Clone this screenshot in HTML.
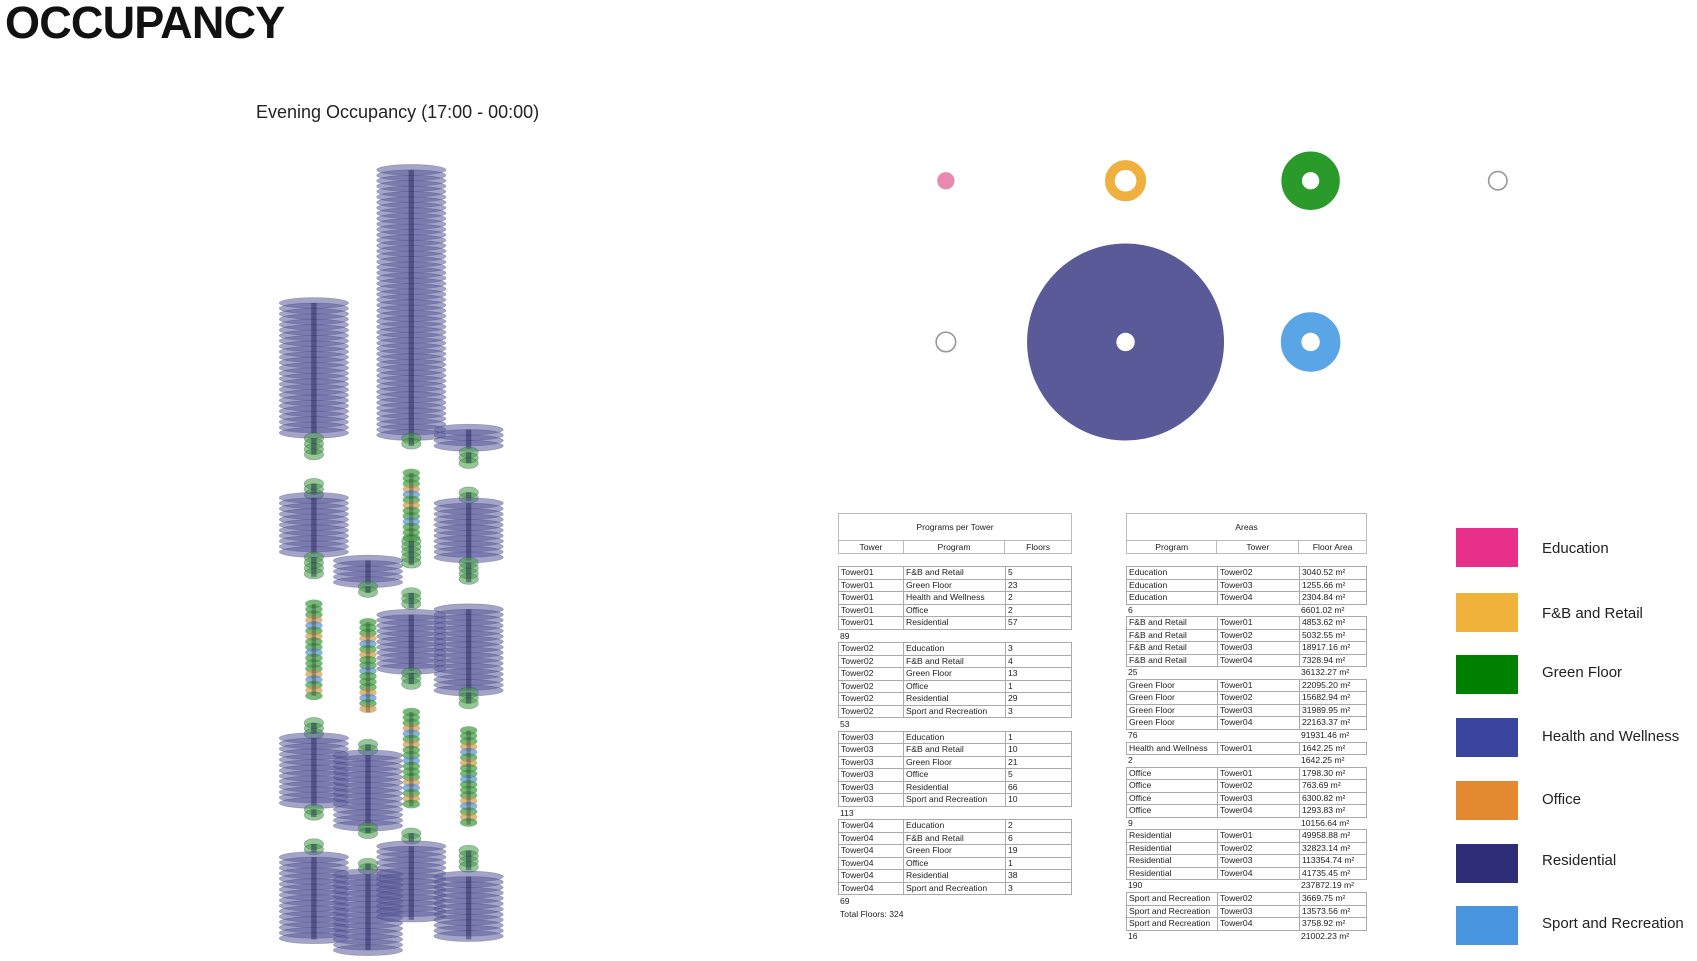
<!DOCTYPE html>
<html><head><meta charset="utf-8">
<style>
body{margin:0;width:1697px;height:961px;background:#fff;position:relative;overflow:hidden;font-family:"Liberation Sans",sans-serif;}
.abs{position:absolute}
h1{position:absolute;left:5px;top:-3px;margin:0;font-size:45px;font-weight:bold;letter-spacing:-0.8px;color:#111}
.sub{left:256px;top:102px;font-size:18px;color:#222}
.tbl{position:absolute;font-size:8.6px;color:#222}
.hdr{border:1px solid #bbb;height:28px;box-sizing:border-box;text-align:center;line-height:26px}
.ch{display:flex;border:1px solid #bbb;border-top:none;height:13px;box-sizing:border-box;line-height:12px}
.ch div{text-align:center;border-right:1px solid #bbb}
.ch div:last-child{border-right:none}
.g{border:1px solid #aaa;border-bottom:none}
.r{display:flex;height:12.5px;border-bottom:1px solid #aaa;box-sizing:border-box;line-height:11px}
.r div{padding-left:2px;border-right:1px solid #aaa;box-sizing:border-box;white-space:nowrap;overflow:hidden}
.r div:last-child{border-right:none}
.s{height:12.5px;line-height:12px;display:flex}
.a .s{height:11.7px;line-height:11px}
.s div{padding-left:2px;box-sizing:border-box}
.leg{position:absolute;left:1456px;width:62px;height:39px}
.lt{position:absolute;left:1542px;font-size:15px;color:#222}
</style></head><body>
<h1>OCCUPANCY</h1>
<div class="abs sub">Evening Occupancy (17:00 - 00:00)</div>

<svg class="abs" style="left:0;top:0" width="1697" height="961" viewBox="0 0 1568 888">
<circle cx="874" cy="167" r="8" fill="#e889b0"/>
<circle cx="1040" cy="167" r="14.5" fill="none" stroke="#f0b040" stroke-width="9"/>
<circle cx="1211" cy="167" r="17.5" fill="none" stroke="#2a9a2a" stroke-width="19"/>
<circle cx="1384" cy="167" r="8.5" fill="none" stroke="#999" stroke-width="1.5"/>
<circle cx="874" cy="316" r="9" fill="none" stroke="#999" stroke-width="1.5"/>
<circle cx="1040" cy="316" r="91" fill="#5a5a98"/>
<circle cx="1040" cy="316" r="8.5" fill="#fff"/>
<circle cx="1211" cy="316" r="18" fill="none" stroke="#5aa5e5" stroke-width="19"/>
<g id="towers"></g>
</svg>

<div class="tbl" style="left:838px;top:513px;width:234px">
<div class="hdr">Programs per Tower</div>
<div class="ch"><div style="width:65px">Tower</div><div style="width:102px">Program</div><div style="width:67px">Floors</div></div>
<div style="height:12px"></div>
<div class="g">
<div class="r"><div style="width:65px">Tower01</div><div style="width:102px">F&amp;B and Retail</div><div>5</div></div>
<div class="r"><div style="width:65px">Tower01</div><div style="width:102px">Green Floor</div><div>23</div></div>
<div class="r"><div style="width:65px">Tower01</div><div style="width:102px">Health and Wellness</div><div>2</div></div>
<div class="r"><div style="width:65px">Tower01</div><div style="width:102px">Office</div><div>2</div></div>
<div class="r"><div style="width:65px">Tower01</div><div style="width:102px">Residential</div><div>57</div></div>
</div><div class="s"><div>89</div></div>
<div class="g">
<div class="r"><div style="width:65px">Tower02</div><div style="width:102px">Education</div><div>3</div></div>
<div class="r"><div style="width:65px">Tower02</div><div style="width:102px">F&amp;B and Retail</div><div>4</div></div>
<div class="r"><div style="width:65px">Tower02</div><div style="width:102px">Green Floor</div><div>13</div></div>
<div class="r"><div style="width:65px">Tower02</div><div style="width:102px">Office</div><div>1</div></div>
<div class="r"><div style="width:65px">Tower02</div><div style="width:102px">Residential</div><div>29</div></div>
<div class="r"><div style="width:65px">Tower02</div><div style="width:102px">Sport and Recreation</div><div>3</div></div>
</div><div class="s"><div>53</div></div>
<div class="g">
<div class="r"><div style="width:65px">Tower03</div><div style="width:102px">Education</div><div>1</div></div>
<div class="r"><div style="width:65px">Tower03</div><div style="width:102px">F&amp;B and Retail</div><div>10</div></div>
<div class="r"><div style="width:65px">Tower03</div><div style="width:102px">Green Floor</div><div>21</div></div>
<div class="r"><div style="width:65px">Tower03</div><div style="width:102px">Office</div><div>5</div></div>
<div class="r"><div style="width:65px">Tower03</div><div style="width:102px">Residential</div><div>66</div></div>
<div class="r"><div style="width:65px">Tower03</div><div style="width:102px">Sport and Recreation</div><div>10</div></div>
</div><div class="s"><div>113</div></div>
<div class="g">
<div class="r"><div style="width:65px">Tower04</div><div style="width:102px">Education</div><div>2</div></div>
<div class="r"><div style="width:65px">Tower04</div><div style="width:102px">F&amp;B and Retail</div><div>6</div></div>
<div class="r"><div style="width:65px">Tower04</div><div style="width:102px">Green Floor</div><div>19</div></div>
<div class="r"><div style="width:65px">Tower04</div><div style="width:102px">Office</div><div>1</div></div>
<div class="r"><div style="width:65px">Tower04</div><div style="width:102px">Residential</div><div>38</div></div>
<div class="r"><div style="width:65px">Tower04</div><div style="width:102px">Sport and Recreation</div><div>3</div></div>
</div><div class="s"><div>69</div></div>
<div class="s"><div>Total Floors: 324</div></div>
</div>

<div class="tbl a" style="left:1126px;top:513px;width:241px">
<div class="hdr">Areas</div>
<div class="ch"><div style="width:91px">Program</div><div style="width:82px">Tower</div><div style="width:68px">Floor Area</div></div>
<div style="height:12px"></div>
<div class="g">
<div class="r"><div style="width:91px">Education</div><div style="width:82px">Tower02</div><div>3040.52 m²</div></div>
<div class="r"><div style="width:91px">Education</div><div style="width:82px">Tower03</div><div>1255.66 m²</div></div>
<div class="r"><div style="width:91px">Education</div><div style="width:82px">Tower04</div><div>2304.84 m²</div></div>
</div><div class="s"><div style="width:173px">6</div><div>6601.02 m²</div></div>
<div class="g">
<div class="r"><div style="width:91px">F&amp;B and Retail</div><div style="width:82px">Tower01</div><div>4853.62 m²</div></div>
<div class="r"><div style="width:91px">F&amp;B and Retail</div><div style="width:82px">Tower02</div><div>5032.55 m²</div></div>
<div class="r"><div style="width:91px">F&amp;B and Retail</div><div style="width:82px">Tower03</div><div>18917.16 m²</div></div>
<div class="r"><div style="width:91px">F&amp;B and Retail</div><div style="width:82px">Tower04</div><div>7328.94 m²</div></div>
</div><div class="s"><div style="width:173px">25</div><div>36132.27 m²</div></div>
<div class="g">
<div class="r"><div style="width:91px">Green Floor</div><div style="width:82px">Tower01</div><div>22095.20 m²</div></div>
<div class="r"><div style="width:91px">Green Floor</div><div style="width:82px">Tower02</div><div>15682.94 m²</div></div>
<div class="r"><div style="width:91px">Green Floor</div><div style="width:82px">Tower03</div><div>31989.95 m²</div></div>
<div class="r"><div style="width:91px">Green Floor</div><div style="width:82px">Tower04</div><div>22163.37 m²</div></div>
</div><div class="s"><div style="width:173px">76</div><div>91931.46 m²</div></div>
<div class="g">
<div class="r"><div style="width:91px">Health and Wellness</div><div style="width:82px">Tower01</div><div>1642.25 m²</div></div>
</div><div class="s"><div style="width:173px">2</div><div>1642.25 m²</div></div>
<div class="g">
<div class="r"><div style="width:91px">Office</div><div style="width:82px">Tower01</div><div>1798.30 m²</div></div>
<div class="r"><div style="width:91px">Office</div><div style="width:82px">Tower02</div><div>763.69 m²</div></div>
<div class="r"><div style="width:91px">Office</div><div style="width:82px">Tower03</div><div>6300.82 m²</div></div>
<div class="r"><div style="width:91px">Office</div><div style="width:82px">Tower04</div><div>1293.83 m²</div></div>
</div><div class="s"><div style="width:173px">9</div><div>10156.64 m²</div></div>
<div class="g">
<div class="r"><div style="width:91px">Residential</div><div style="width:82px">Tower01</div><div>49958.88 m²</div></div>
<div class="r"><div style="width:91px">Residential</div><div style="width:82px">Tower02</div><div>32823.14 m²</div></div>
<div class="r"><div style="width:91px">Residential</div><div style="width:82px">Tower03</div><div>113354.74 m²</div></div>
<div class="r"><div style="width:91px">Residential</div><div style="width:82px">Tower04</div><div>41735.45 m²</div></div>
</div><div class="s"><div style="width:173px">190</div><div>237872.19 m²</div></div>
<div class="g">
<div class="r"><div style="width:91px">Sport and Recreation</div><div style="width:82px">Tower02</div><div>3669.75 m²</div></div>
<div class="r"><div style="width:91px">Sport and Recreation</div><div style="width:82px">Tower03</div><div>13573.56 m²</div></div>
<div class="r"><div style="width:91px">Sport and Recreation</div><div style="width:82px">Tower04</div><div>3758.92 m²</div></div>
</div><div class="s"><div style="width:173px">16</div><div>21002.23 m²</div></div>
</div>

<div class="leg" style="top:528px;background:#e8308a"></div><div class="lt" style="top:540px">Education</div>
<div class="leg" style="top:593px;background:#f0b23a"></div><div class="lt" style="top:605px">F&amp;B and Retail</div>
<div class="leg" style="top:655px;background:#008000"></div><div class="lt" style="top:664px">Green Floor</div>
<div class="leg" style="top:718px;background:#3a45a0"></div><div class="lt" style="top:728px">Health and Wellness</div>
<div class="leg" style="top:781px;background:#e38a30"></div><div class="lt" style="top:791px">Office</div>
<div class="leg" style="top:844px;background:#2e2e78"></div><div class="lt" style="top:852px">Residential</div>
<div class="leg" style="top:906px;background:#4a95e0"></div><div class="lt" style="top:915px">Sport and Recreation</div>

<script>
(function(){
var g=document.getElementById('towers'),h='';
var P='#5a5a9a',G='#3f9a3f',O='#d09a50',B='#5a90d0';
function stack(cx,y0,y1,rx,col){
  for(var y=y0;y<=y1;y+=5){h+='<ellipse cx="'+cx+'" cy="'+y+'" rx="'+rx+'" ry="5" fill="'+col+'" fill-opacity="0.55" stroke="#333366" stroke-opacity="0.35" stroke-width="0.6"/>';}
  h+='<rect x="'+(cx-2.5)+'" y="'+y0+'" width="5" height="'+(y1-y0)+'" fill="#222255" opacity="0.45"/>';
}
function mix(cx,y0,y1){
  var c=[G,G,G,O,B,G,O,G,G,B];
  for(var y=y0,i=0;y<=y1;y+=5,i++){h+='<ellipse cx="'+cx+'" cy="'+y+'" rx="8" ry="4" fill="'+c[i%c.length]+'" fill-opacity="0.7"/>';}
  h+='<rect x="'+(cx-2)+'" y="'+y0+'" width="4" height="'+(y1-y0)+'" fill="#333" opacity="0.35"/>';
}
stack(290,280,400,32,P);stack(290,405,420,9,G);
stack(380,157,405,32,P);stack(380,405,412,9,G);
stack(433,397,415,32,P);stack(433,418,428,9,G);
stack(290,447,457,9,G);stack(290,460,512,32,P);stack(290,515,533,9,G);
mix(380,437,500);stack(380,500,522,9,G);
stack(340,518,540,32,P);stack(340,542,548,9,G);
stack(433,455,463,9,G);stack(433,465,518,32,P);stack(433,520,538,9,G);
mix(290,558,643);mix(340,575,658);
stack(380,548,562,9,G);stack(380,568,620,32,P);stack(380,622,632,9,G);
stack(433,563,638,32,P);stack(433,640,650,9,G);
stack(290,668,678,9,G);stack(290,682,745,32,P);stack(290,748,755,9,G);
stack(340,688,694,9,G);stack(340,698,763,32,P);stack(340,765,770,9,G);
mix(380,658,745);mix(433,675,762);
stack(290,780,788,9,G);stack(290,792,868,32,P);
stack(340,798,804,9,G);stack(340,808,878,32,P);
stack(380,770,778,9,G);stack(380,782,850,32,P);
stack(433,786,804,9,G);stack(433,810,868,32,P);
g.innerHTML=h;
})();
</script>
</body></html>
